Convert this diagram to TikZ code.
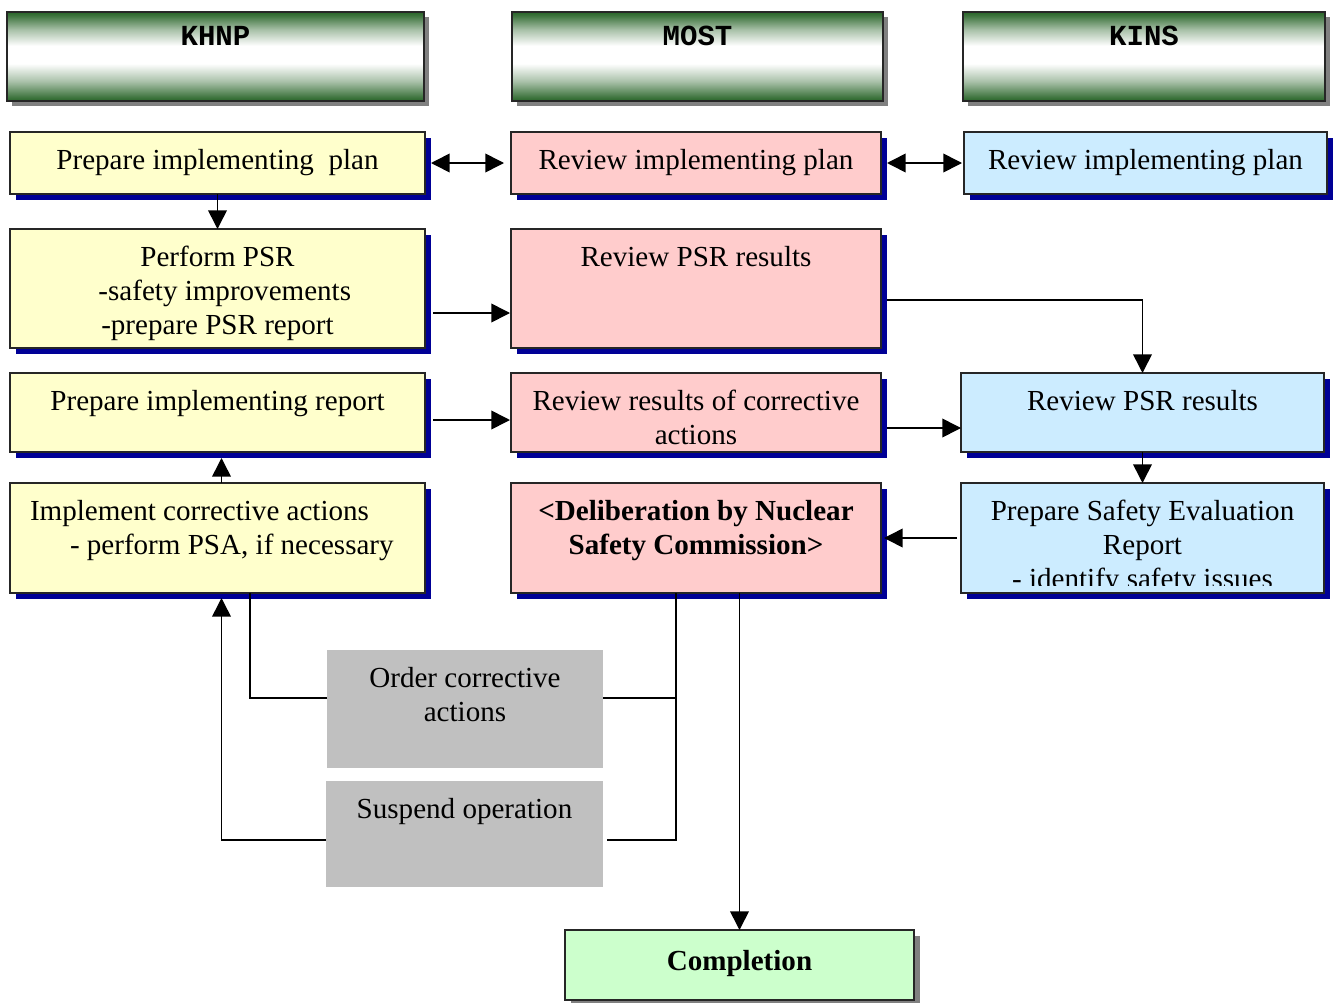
\documentclass[tikz,border=0pt]{standalone}
\usepackage{fontspec}
\setmainfont{Liberation Serif}
\newfontfamily\hdrfamily{Liberation Mono}
\usetikzlibrary{arrows.meta,backgrounds}
\definecolor{cyel}{HTML}{FFFFCC}
\definecolor{cpink}{HTML}{FFCCCC}
\definecolor{cblue}{HTML}{CCECFF}
\definecolor{cgreen}{HTML}{CCFFCC}
\definecolor{cgray}{HTML}{C0C0C0}
\definecolor{cnavy}{RGB}{0,0,150}
\definecolor{cshad}{HTML}{808080}
\definecolor{hg}{RGB}{40,100,40}
\pgfdeclareverticalshading{hdrshade}{100bp}{color(0bp)=(hg); color(25bp)=(hg); color(27bp)=(hg!90!white); color(36bp)=(hg!40!white); color(46bp)=(white); color(56bp)=(white); color(65bp)=(hg!40!white); color(73bp)=(hg!90!white); color(75bp)=(hg); color(100bp)=(hg)}
\newcommand\txtfont{\fontsize{21.8}{25.5}\selectfont}
\newcommand\hdrfont{\hdrfamily\bfseries\fontsize{21.8}{25.5}\selectfont}
\begin{document}
\begin{tikzpicture}[x=0.75pt,y=-0.75pt,
  arr/.style={line width=1.2pt, -{Triangle[length=14pt,width=14pt]}},
  arrb/.style={line width=1.2pt, {Triangle[length=14pt,width=14pt]}-{Triangle[length=14pt,width=14pt]}},
  ln/.style={line width=1.2pt},
  inner/.style={inner sep=0pt, minimum width=0pt, minimum height=0pt, draw=none, fill=none},
  bx/.style={draw=black!85, line width=1pt, rectangle, inner sep=0pt, outer sep=0pt},
  gbx/.style={fill=cgray, rectangle, inner sep=0pt, outer sep=0pt},
  hdr/.style={draw=black!85, line width=1pt, rectangle, inner sep=0pt, outer sep=0pt, shading=hdrshade,
     minimum height=66.75pt, path picture={
     \node[inner, anchor=north, font=\hdrfont] at ([yshift=-7.65pt]path picture bounding box.north) {\strut #1};}},
  tb/.style 2 args={path picture={
     \clip ([shift={(3.75pt,6pt)}]path picture bounding box.south west) rectangle ([shift={(-3.75pt,-3.75pt)}]path picture bounding box.north east);
     \node[inner, anchor=north, align=center, font=\txtfont] at ([yshift=-#1]path picture bounding box.north) {\strut #2};}},
  tbl/.style={path picture={
     \node[inner, anchor=north west, align=left, font=\txtfont] at ([shift={(15pt,-9.9pt)}]path picture bounding box.north west) {\strut #1};}},
  colA/.style={bx, fill=cyel, minimum width=311.25pt},
  colB/.style={bx, fill=cpink, minimum width=277.5pt},
  colC/.style={bx, fill=cblue, minimum width=272.25pt},
]
\useasboundingbox (0,0) rectangle (1335,1003);

% headers
\node[hdr=KHNP, minimum width=312.75pt] (hk) at (215.5,56.5) {};
\node[hdr=MOST, minimum width=278.25pt] (hm) at (697.5,56.5) {};
\node[hdr=KINS, minimum width=271.5pt] (hn) at (1144,56.5) {};

% row 1
\node[colA, minimum height=46.5pt, tb={9.9pt}{Prepare implementing\ \ plan}] (a1) at (217.5,163) {};
\node[colB, minimum height=46.5pt, tb={9.9pt}{Review implementing plan}] (b1) at (696,163) {};
\node[colC, minimum height=46.5pt, tb={9.9pt}{Review implementing plan}] (c1) at (1145.5,163) {};

% row 2
\node[colA, minimum height=89.25pt, tb={9.9pt}{Perform PSR\\\hspace*{0.5em}-safety improvements\\-prepare PSR report}] (a2) at (217.5,288.5) {};
\node[colB, minimum height=89.25pt, tb={9.9pt}{Review PSR results}] (b2) at (696,288.5) {};

% row 3
\node[colA, minimum height=59.25pt, tb={9.9pt}{Prepare implementing report}] (a3) at (217.5,412.5) {};
\node[colB, minimum height=59.25pt, tb={9.9pt}{Review results of corrective\\actions}] (b3) at (696,412.5) {};
\node[colC, minimum height=59.25pt, tb={9.9pt}{Review PSR results}] (c3) at (1142.5,412.5) {};

% row 4
\node[colA, minimum height=82.5pt, tbl={Implement corrective actions\\\hspace*{30pt}- perform PSA, if necessary}] (a4) at (217.5,538) {};
\node[colB, minimum height=82.5pt, tb={9.9pt}{\bfseries<Deliberation by Nuclear\\\bfseries Safety Commission>}] (b4) at (696,538) {};
\node[colC, minimum height=82.5pt, tb={9.9pt}{Prepare Safety Evaluation\\Report\\- identify safety issues}] (c4) at (1142.5,538) {};

% gray boxes
\node[gbx, minimum width=207pt, minimum height=88.5pt, tb={9.9pt}{Order corrective\\actions}] (ord) at (465,709) {};
\node[gbx, minimum width=207.75pt, minimum height=79.5pt, tb={9.9pt}{Suspend operation}] (sus) at (464.5,834) {};

% completion
\node[bx, fill=cgreen, minimum width=261.75pt, minimum height=52.5pt, tb={12.15pt}{\bfseries Completion}] (comp) at (739.5,965) {};

% background and shadows
\begin{scope}[on background layer]
  \fill[white] (0,0) rectangle (1335,1003);
  \foreach \n in {hk,hm,hn}
    \fill[cshad] ([shift={(5,5)}]\n.south west) rectangle ([shift={(5,5)}]\n.north east);
  \foreach \n in {a1,b1,c1,a2,b2,a3,b3,c3,a4,b4,c4}
    \fill[cnavy] ([shift={(6,6)}]\n.south west) rectangle ([shift={(6,6)}]\n.north east);
  \fill[cshad] ([shift={(6,6)}]comp.south west) rectangle ([shift={(6,6)}]comp.north east);
\end{scope}

% connectors
\draw[arrb, shorten <=4.5pt, shorten >=5.25pt] (a1) -- (b1);
\draw[arrb, shorten <=4.5pt, shorten >=1.5pt] (b1) -- (c1);
\draw[arr] (a1) -- (a2);
\draw[arr] ([shift={(8,24.5)}]a2.east) -- ([shift={(-1,24.5)}]b2.west);
\draw[arr] ([shift={(6,11.5)}]b2.east) -| (c3.north);
\draw[arr] ([shift={(8,7.5)}]a3.east) -- ([shift={(-1,7.5)}]b3.west);
\draw[arr] ([shift={(6,15.5)}]b3.east) -- ([shift={(0,15.5)}]c3.west);
\draw[arr] (c3) -- (c4);
\draw[arr] ([shift={(-4,0)}]c4.west) -- ([shift={(3,0)}]b4.east);
\draw[arr] ([shift={(4,0)}]a4.north) -- ([shift={(4,6)}]a3.south);
\draw[arr] (b4.south -| comp.north) -- (comp.north);
\coordinate (jn) at ([shift={(-20,0)}]b4.south);
\coordinate (oe) at ([shift={(0,-11)}]ord.east);
\draw[ln] (jn) |- ([shift={(4,6)}]sus.east);
\draw[ln] (jn |- oe) -- (oe);
\draw[ln] ([shift={(0,-11)}]ord.west) -| ([shift={(32.5,0)}]a4.south);
\draw[arr] ([shift={(0,6)}]sus.west) -| ([shift={(4,5)}]a4.south);
\end{tikzpicture}
\end{document}
